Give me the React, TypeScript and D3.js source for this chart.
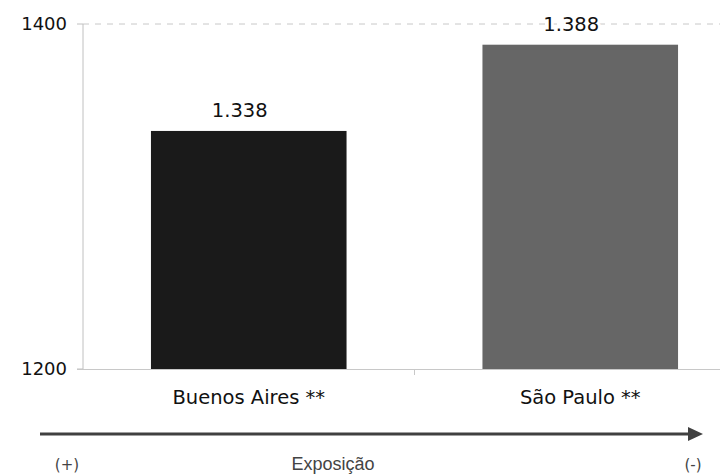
import React from "react";
import * as d3 from "d3";

const categories = ["Buenos Aires **", "São Paulo **"];
const values = [1338, 1388];
const valueLabels = ["1.338", "1.388"];
const barColors = ["#1a1a1a", "#666666"];
const yTicks = [1200, 1400];

export default function App() {
  const W = 720, H = 474;
  const left = 83, right = 746, top = 24, bottom = 369;
  const x = d3.scaleBand<string>().domain(categories).range([left, right]).paddingInner(0.41).paddingOuter(0.205);
  const y = d3.scaleLinear().domain([1200, 1400]).range([bottom, top]);
  const font = "'DejaVu Sans', Verdana, sans-serif";
  return (
    <svg width={W} height={H} style={{ position: "absolute", left: 0, top: 0, background: "#fff" }}>
      <defs>
        <marker id="arr" markerWidth="15" markerHeight="14" refX="0" refY="7" orient="auto" markerUnits="userSpaceOnUse">
          <path d="M0,0 L15,7 L0,14 Z" fill="#404040" />
        </marker>
      </defs>
      <line x1={left} x2={W} y1={y(1400)} y2={y(1400)} stroke="#c8c8c8" strokeDasharray="6,6" />
      <line x1={left} x2={left} y1={top} y2={bottom} stroke="#c0c0c0" />
      {yTicks.map((t) => (
        <g key={t}>
          <line x1={left - 6} x2={left} y1={y(t)} y2={y(t)} stroke="#c0c0c0" />
          <text x={left - 16} y={y(t)} dy="0.36em" textAnchor="end" fontFamily={font} fontSize={18} fill="#111">{t}</text>
        </g>
      ))}
      {categories.map((c, i) => (
        <g key={c}>
          <rect x={x(c)} y={y(values[i])} width={x.bandwidth()} height={bottom - y(values[i])} fill={barColors[i]} />
          <text x={(x(c) as number) + x.bandwidth() / 2 - 9} y={y(values[i]) - 14} textAnchor="middle" fontFamily={font} fontSize={19.5} fill="#111" stroke="#fff" strokeWidth={6} paintOrder="stroke">{valueLabels[i]}</text>
          <text x={(x(c) as number) + x.bandwidth() / 2} y={404} textAnchor="middle" fontFamily={font} fontSize={19.5} fill="#111">{c}</text>
        </g>
      ))}
      <line x1={left - 6} x2={W} y1={bottom + 0.5} y2={bottom + 0.5} stroke="#c8c8c8" />
      <line x1={(left + right) / 2} x2={(left + right) / 2} y1={bottom} y2={bottom + 6} stroke="#c8c8c8" />
      <line x1={40} x2={688} y1={434} y2={434} stroke="#404040" strokeWidth={3} markerEnd="url(#arr)" />
      <text x={67} y={470} textAnchor="middle" fontFamily={font} fontSize={15} fill="#444">(+)</text>
      <text x={333} y={470} textAnchor="middle" fontFamily="'Liberation Sans', Arial, sans-serif" fontSize={18} fill="#444">Exposição</text>
      <text x={693} y={470} textAnchor="middle" fontFamily={font} fontSize={15} fill="#444">(-)</text>
    </svg>
  );
}
